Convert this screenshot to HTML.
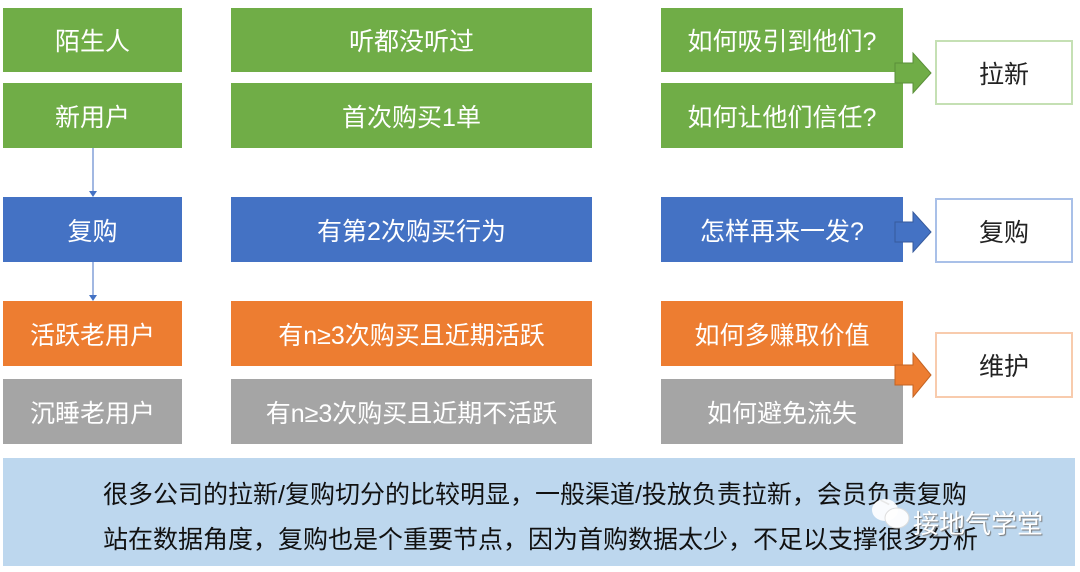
<!DOCTYPE html>
<html><head><meta charset="utf-8"><style>
body{margin:0;width:1080px;height:572px;background:#fff;position:relative;overflow:hidden;font-family:"Liberation Sans","Noto Sans CJK SC",sans-serif}
.b{position:absolute;color:#fff;font-size:25px;display:flex;align-items:center;justify-content:center}
.g{background:#70AD47}.bl{background:#4472C4}.o{background:#ED7D31}.gr{background:#A5A5A5}
.r{position:absolute;background:#fff;color:#222;font-size:25px;display:flex;align-items:center;justify-content:center;box-sizing:border-box;border:2px solid}
.t{position:absolute;left:100px;white-space:nowrap;font-size:25px;color:#111;line-height:30px}
</style></head><body>
<div class="b g" style="left:3px;top:8px;width:179px;height:64px">陌生人</div>
<div class="b g" style="left:3px;top:83px;width:179px;height:65px">新用户</div>
<div class="b bl" style="left:3px;top:197px;width:179px;height:65px">复购</div>
<div class="b o" style="left:3px;top:301px;width:179px;height:65px">活跃老用户</div>
<div class="b gr" style="left:3px;top:379px;width:179px;height:65px">沉睡老用户</div>

<div class="b g" style="left:231px;top:8px;width:361px;height:64px">听都没听过</div>
<div class="b g" style="left:231px;top:83px;width:361px;height:65px">首次购买1单</div>
<div class="b bl" style="left:231px;top:197px;width:361px;height:65px">有第2次购买行为</div>
<div class="b o" style="left:231px;top:301px;width:361px;height:65px">有n≥3次购买且近期活跃</div>
<div class="b gr" style="left:231px;top:379px;width:361px;height:65px">有n≥3次购买且近期不活跃</div>

<div class="b g" style="left:661px;top:8px;width:242px;height:64px">如何吸引到他们?</div>
<div class="b g" style="left:661px;top:83px;width:242px;height:65px">如何让他们信任?</div>
<div class="b bl" style="left:661px;top:197px;width:242px;height:65px">怎样再来一发?</div>
<div class="b o" style="left:661px;top:301px;width:242px;height:65px">如何多赚取价值</div>
<div class="b gr" style="left:661px;top:379px;width:242px;height:65px">如何避免流失</div>

<div class="r" style="left:935px;top:40px;width:138px;height:65px;border-color:#C5E0B4">拉新</div>
<div class="r" style="left:935px;top:198px;width:138px;height:65px;border-color:#A9C0E8">复购</div>
<div class="r" style="left:935px;top:332px;width:138px;height:66px;border-color:#F8CBAD">维护</div>

<svg style="position:absolute;left:0;top:0" width="1080" height="572">
<polygon points="895,63 913,63 913,53 931,73 913,93 913,83 895,83" fill="#70AD47" stroke="#5a8f38"/>
<polygon points="895,222 913,222 913,212 931,232 913,252 913,242 895,242" fill="#4472C4" stroke="#365a9c"/>
<polygon points="895,365 913,365 913,353 931,375 913,397 913,385 895,385" fill="#ED7D31" stroke="#c46322"/>
<line x1="93" y1="148" x2="93" y2="192" stroke="#4472C4" stroke-width="1"/>
<polygon points="89,191 97,191 93,197" fill="#4472C4"/>
<line x1="93" y1="262" x2="93" y2="296" stroke="#4472C4" stroke-width="1"/>
<polygon points="89,295 97,295 93,301" fill="#4472C4"/>
</svg>

<div style="position:absolute;left:3px;top:458px;width:1072px;height:108px;background:#BDD7EE">
<div class="t" style="top:22px">很多公司的拉新/复购切分的比较明显，一般渠道/投放负责拉新，会员负责复购</div>
<div class="t" style="top:67px">站在数据角度，复购也是个重要节点，因为首购数据太少，不足以支撑很多分析</div>
<svg style="position:absolute;left:866px;top:38px" width="44" height="36">
<ellipse cx="16" cy="14" rx="13" ry="11" fill="#fff" opacity="0.9"/>
<ellipse cx="28" cy="22" rx="12" ry="10" fill="#fff" stroke="#ddd" opacity="0.95"/>
</svg>
<div style="position:absolute;left:910px;top:46px;font-size:26px;color:#fff;text-shadow:1px 1px 1px #777;white-space:nowrap">接地气学堂</div>
</div>
</body></html>
